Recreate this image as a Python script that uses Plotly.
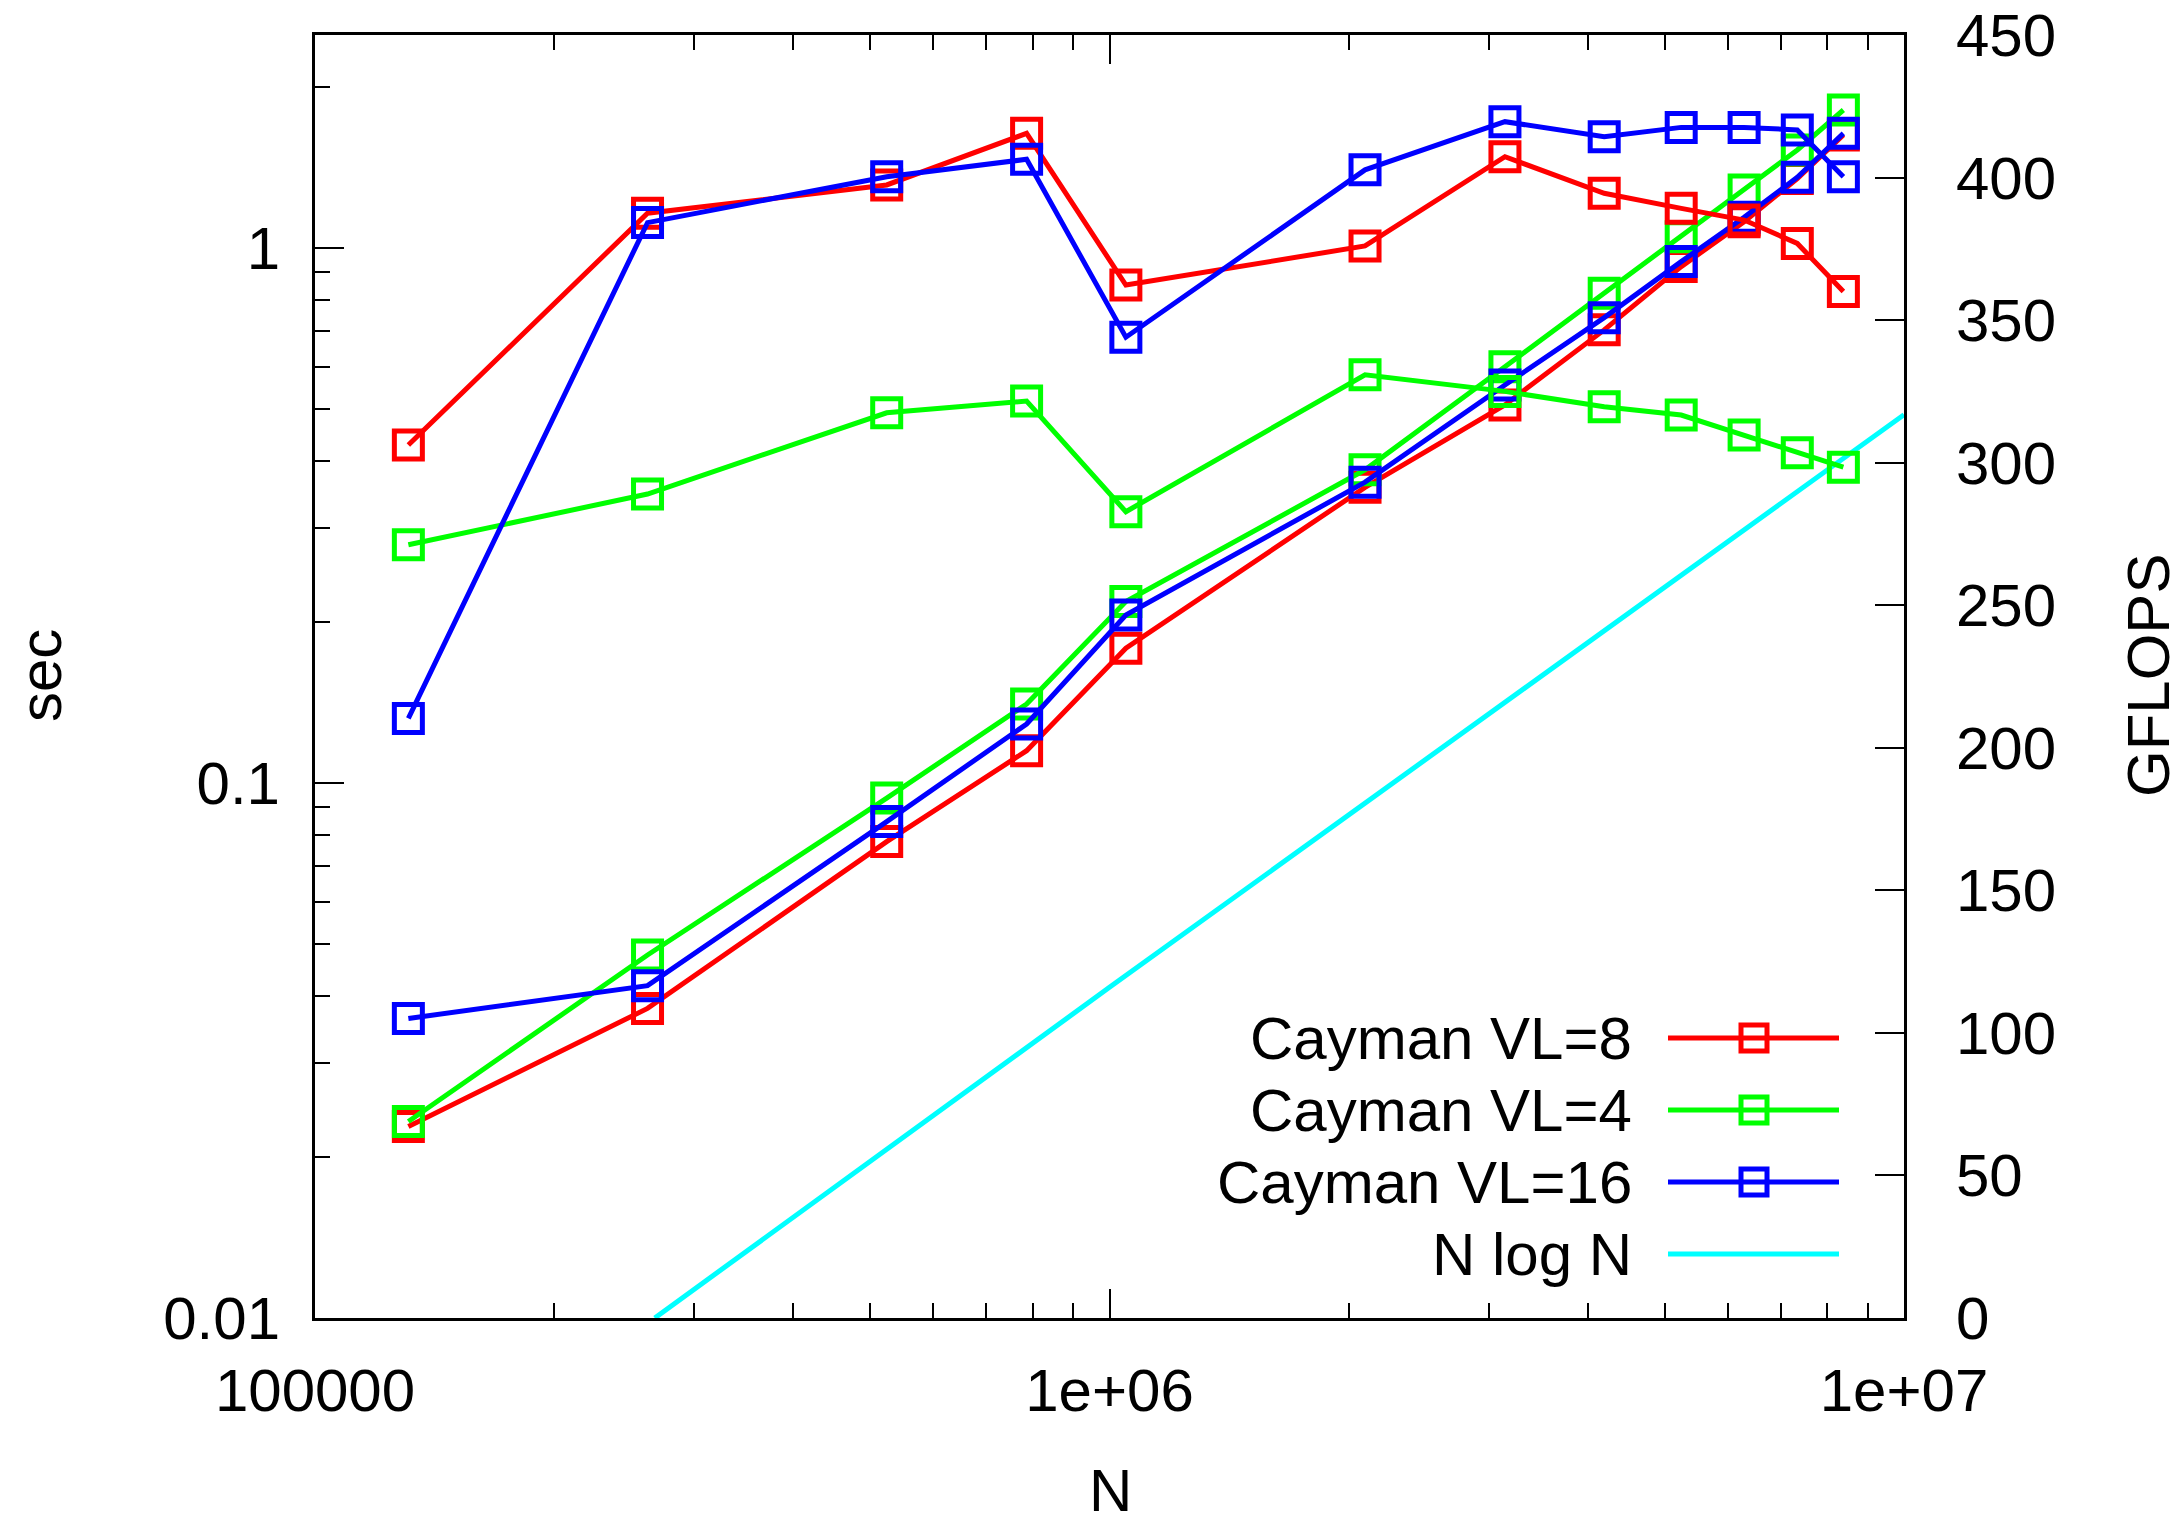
import plotly.graph_objects as go

# ---------------- data ----------------
N = [131072, 262144, 524288, 786432, 1048576, 2097152, 3145728,
     4194304, 5242880, 6291456, 7340032, 8388608]

sec_vl8 = [0.0228, 0.0379, 0.0777, 0.1149, 0.1786, 0.357, 0.509,
           0.703, 0.923, 1.12, 1.348, 1.627]
sec_vl4 = [0.0233, 0.0477, 0.0937, 0.1405, 0.2183, 0.385, 0.600,
           0.823, 1.05, 1.284, 1.525, 1.811]
sec_vl16 = [0.0363, 0.0418, 0.0847, 0.1289, 0.2061, 0.365, 0.5546,
            0.741, 0.943, 1.141, 1.356, 1.638]

gf_vl8 = [306.2, 387.5, 397.4, 415.5, 362.3, 376.0, 407.3,
          394.5, 389.2, 385.1, 376.9, 360.0]
gf_vl4 = [271.2, 289.0, 317.5, 321.6, 282.8, 330.8, 325.0,
          319.6, 316.7, 309.7, 303.5, 298.4]
gf_vl16 = [210.3, 384.2, 400.3, 406.4, 344.0, 402.7, 419.6,
           414.3, 417.6, 417.6, 416.7, 400.3]

nlogn_n = [267700, 1000000, 10000000]
nlogn_sec = [0.0100, 0.0415, 0.488]

labels = ["Cayman VL=8", "Cayman VL=4", "Cayman VL=16", "N log N"]
colors = ["#ff0000", "#00ff00", "#0000ff", "#00ffff"]

x_tickvals = [1e5, 1e6, 1e7]
x_ticktext = ["100000", "1e+06", "1e+07"]
y_tickvals = [0.01, 0.1, 1]
y_ticktext = ["0.01", "0.1", "1"]

# ---------------- figure ----------------
FONT = "Liberation Sans, Arial, sans-serif"
LW = 5
fig = go.Figure()

series = [(sec_vl8, gf_vl8, colors[0]), (sec_vl4, gf_vl4, colors[1]),
          (sec_vl16, gf_vl16, colors[2])]
for sec, gf, col in series:
    for yv, ax in ((sec, "y"), (gf, "y2")):
        fig.add_trace(go.Scatter(
            x=N, y=yv, yaxis=ax, mode="lines+markers",
            line=dict(color=col, width=LW),
            marker=dict(symbol="square-open", size=28, color=col,
                        line=dict(color=col, width=LW)),
            showlegend=False, cliponaxis=False))

fig.add_trace(go.Scatter(x=nlogn_n, y=nlogn_sec, yaxis="y", mode="lines",
                         line=dict(color=colors[3], width=LW),
                         showlegend=False))

OFF = 8                      # page body margin
W, H = 2184, 1523
# plot frame in page pixels
PL, PR, PT, PB = 315, 1904, 35, 1318
L, R, T, B = PL - OFF, PR - OFF, PT - OFF, PB - OFF
pw, ph = R - L, B - T


def px(xpage):
    return (xpage - PL) / pw


def py(ypage):
    return (PB - ypage) / ph


minor_x = [k * 10 ** e for e in (5, 6) for k in range(2, 10)]
minor_y = [k * 10 ** e for e in (-2, -1) for k in range(2, 10)] + [2]

tickfont = dict(family=FONT, size=60, color="black")

fig.update_layout(
    width=W, height=H,
    margin=dict(l=L, r=W - R, t=T, b=H - B, pad=0, autoexpand=False),
    paper_bgcolor="white", plot_bgcolor="white",
    font=dict(family=FONT, size=60, color="black"),
    xaxis=dict(type="log", range=[5, 7], tickmode="array",
               tickvals=x_tickvals, ticktext=x_ticktext,
               ticks="inside", ticklen=29, tickwidth=2, tickcolor="black",
               showline=True, linecolor="black", linewidth=3,
               mirror="ticks", showgrid=False, zeroline=False,
               automargin=False, ticklabeloverflow="allow",
               tickfont=tickfont, ticklabelstandoff=18,
               minor=dict(tickmode="array", tickvals=minor_x,
                          ticks="inside", ticklen=15, tickwidth=2,
                          tickcolor="black", showgrid=False)),
    yaxis=dict(type="log", range=[-2, 0.3981], tickmode="array",
               tickvals=y_tickvals, ticktext=y_ticktext,
               ticks="inside", ticklen=29, tickwidth=2, tickcolor="black",
               showline=True, linecolor="black", linewidth=3,
               mirror=False, showgrid=False, zeroline=False,
               automargin=False, ticklabeloverflow="allow",
               tickfont=tickfont, ticklabelstandoff=20,
               minor=dict(tickmode="array", tickvals=minor_y,
                          ticks="inside", ticklen=15, tickwidth=2,
                          tickcolor="black", showgrid=False)),
    yaxis2=dict(overlaying="y", side="right", range=[0, 450], dtick=50,
                tickmode="linear", tick0=0,
                ticks="inside", ticklen=29, tickwidth=2, tickcolor="black",
                showline=True, linecolor="black", linewidth=3,
                showgrid=False, zeroline=False, tickfont=tickfont,
                automargin=False, ticklabeloverflow="allow",
                ticklabelstandoff=37),
)

annotations = [
    dict(text="sec", x=px(40), y=py(676), xref="paper", yref="paper",
         textangle=-90, showarrow=False, xanchor="center", yanchor="middle",
         font=dict(family=FONT, size=60, color="black")),
    dict(text="GFLOPS", x=px(2148), y=py(676), xref="paper", yref="paper",
         textangle=-90, showarrow=False, xanchor="center", yanchor="middle",
         font=dict(family=FONT, size=60, color="black")),
    dict(text="N", x=px(1110), y=py(1490), xref="paper", yref="paper",
         showarrow=False, xanchor="center", yanchor="middle",
         font=dict(family=FONT, size=60, color="black")),
]

shapes = []
rows = [1038, 1110, 1182, 1254]
for i, (lab, col) in enumerate(zip(labels, colors)):
    yr = py(rows[i])
    annotations.append(dict(text=lab, x=px(1634), y=yr, xref="paper",
                            yref="paper", showarrow=False, xanchor="right",
                            yanchor="middle",
                            font=dict(family=FONT, size=60, color="black")))
    shapes.append(dict(type="line", xref="paper", yref="paper",
                       x0=px(1668), x1=px(1839), y0=yr, y1=yr,
                       line=dict(color=col, width=LW)))
    if i < 3:
        shapes.append(dict(type="rect", xref="paper", yref="paper",
                           xsizemode="pixel", ysizemode="pixel",
                           xanchor=px(1754), yanchor=yr,
                           x0=-13, x1=13, y0=-13, y1=13,
                           line=dict(color=col, width=LW),
                           fillcolor="rgba(0,0,0,0)"))

fig.update_layout(annotations=annotations, shapes=shapes)

fig.write_html("out.html")
